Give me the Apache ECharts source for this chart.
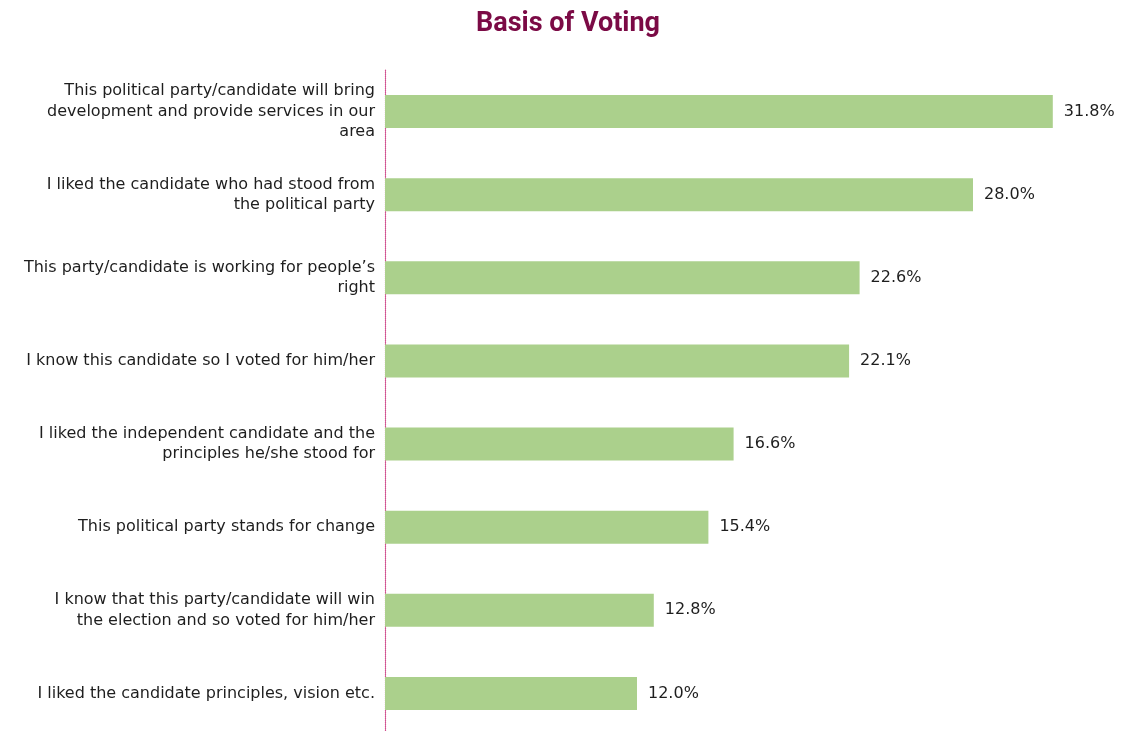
<!DOCTYPE html>
<html>
<head>
<meta charset="utf-8">
<script src="https://cdn.jsdelivr.net/npm/echarts@6/dist/echarts.min.js"></script>
<style>
  html, body { margin: 0; padding: 0; background: #fff; }
  #chart { width: 1123px; height: 731px; }
</style>
</head>
<body>
<div id="chart"></div>
<script>
// Reasons given for choosing a party or candidate, top to bottom
const categories = [
  'This political party/candidate will bring\ndevelopment and provide services in our\narea',
  'I liked the candidate who had stood from\nthe political party',
  'This party/candidate is working for people\u2019s\nright',
  'I know this candidate so I voted for him/her',
  'I liked the independent candidate and the\nprinciples he/she stood for',
  'This political party stands for change',
  'I know that this party/candidate will win\nthe election and so voted for him/her',
  'I liked the candidate principles, vision etc.'
];
// Share of respondents (%)
const shares = [31.8, 28.0, 22.6, 22.1, 16.6, 15.4, 12.8, 12.0];

const labelFont = {
  fontFamily: 'DejaVu Sans',
  fontSize: 16,
  color: '#1e1e1e'
};

const chart = echarts.init(document.getElementById('chart'));
chart.setOption({
  animation: false,
  title: {
    text: 'Basis of Voting',
    left: 476,
    top: 11,
    padding: 0,
    textStyle: {
      fontFamily: 'Roboto',
      fontWeight: 'bold',
      fontSize: 27,
      color: '#7b0a45'
    }
  },
  grid: { left: 385, top: 70, width: 735, height: 665, outerBoundsMode: 'none' },
  xAxis: {
    type: 'value',
    min: 0,
    max: 35,
    show: false
  },
  yAxis: {
    type: 'category',
    inverse: true,
    data: categories,
    axisLine: {
      show: true,
      lineStyle: { color: '#d0508f', type: [1, 1], width: 1.2 }
    },
    axisTick: { show: false },
    axisLabel: Object.assign({
      margin: 10,
      align: 'right',
      lineHeight: 20.5
    }, labelFont),
    splitLine: { show: false }
  },
  series: [{
    type: 'bar',
    data: shares,
    barWidth: 33,
    itemStyle: { color: '#abd08c' },
    label: Object.assign({
      show: true,
      position: 'right',
      distance: 11,
      formatter: p => p.value.toFixed(1) + '%'
    }, labelFont)
  }]
});
</script>
</body>
</html>
